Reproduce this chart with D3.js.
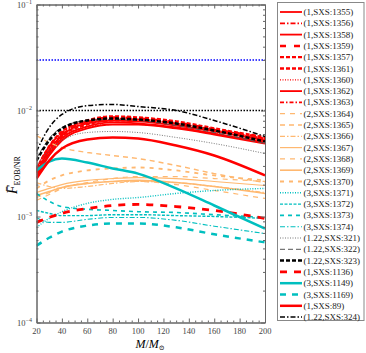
<!DOCTYPE html>
<html>
<head>
<meta charset="utf-8">
<script src="https://cdn.jsdelivr.net/npm/d3@7"></script>
<style>
  body { margin: 0; background: #fff; }
  svg text { font-family: "Liberation Serif", "DejaVu Serif", serif; }
</style>
</head>
<body>
<svg class="chart"></svg>
<script>
// total mass grid (M / M_sun)
const masses = [20, 30, 40, 60, 80, 100, 130, 160, 200];

// mismatch values, one array per simulation
const sxs1355 = [0.00260, 0.00420, 0.00581, 0.00754, 0.00805, 0.00788, 0.00722, 0.00634, 0.00521];
const sxs1356 = [0.00284, 0.00457, 0.00620, 0.00788, 0.00840, 0.00822, 0.00754, 0.00648, 0.00533];
const sxs1358 = [0.00244, 0.00393, 0.00545, 0.00706, 0.00771, 0.00754, 0.00691, 0.00606, 0.00499];
const sxs1359 = [0.00272, 0.00447, 0.00606, 0.00788, 0.00859, 0.00840, 0.00771, 0.00663, 0.00557];
const sxs1357 = [0.00254, 0.00411, 0.00569, 0.00738, 0.00805, 0.00805, 0.00738, 0.00648, 0.00533];
const sxs1361 = [0.00278, 0.00457, 0.00634, 0.00805, 0.00878, 0.00859, 0.00788, 0.00677, 0.00557];
const sxs1360 = [0.00296, 0.00438, 0.00569, 0.00706, 0.00738, 0.00738, 0.00691, 0.00606, 0.00510];
const sxs1362 = [0.00233, 0.00376, 0.00521, 0.00677, 0.00738, 0.00738, 0.00677, 0.00593, 0.00488];
const sxs1363 = [0.00266, 0.00429, 0.00593, 0.00771, 0.00822, 0.00822, 0.00754, 0.00663, 0.00545];
const sxs1364 = [0.00142, 0.00161, 0.00184, 0.00209, 0.00228, 0.00238, 0.00238, 0.00228, 0.00214];
const sxs1365 = [0.00581, 0.00499, 0.00447, 0.00402, 0.00376, 0.00352, 0.00303, 0.00254, 0.00209];
const sxs1366 = [0.00209, 0.00192, 0.00184, 0.00192, 0.00205, 0.00214, 0.00209, 0.00192, 0.00168];
const sxs1367 = [0.00168, 0.00184, 0.00200, 0.00219, 0.00228, 0.00233, 0.00228, 0.00214, 0.00196];
const sxs1368 = [0.00151, 0.00168, 0.00188, 0.00205, 0.00214, 0.00214, 0.00200, 0.00176, 0.00148];
const sxs1369 = [0.00158, 0.00172, 0.00188, 0.00205, 0.00214, 0.00219, 0.00209, 0.00192, 0.00165];
const sxs1370 = [0.00184, 0.00219, 0.00244, 0.00272, 0.00284, 0.00290, 0.00272, 0.00244, 0.00219];
const sxs1371 = [0.00079, 0.00096, 0.00111, 0.00133, 0.00145, 0.00151, 0.00165, 0.00176, 0.00184];
const sxs1372 = [0.00114, 0.00107, 0.00102, 0.00102, 0.00104, 0.00104, 0.00102, 0.00100, 0.00096];
const sxs1373 = [0.00165, 0.00139, 0.00124, 0.00117, 0.00114, 0.00111, 0.00109, 0.00104, 0.00098];
const sxs1374 = [0.00098, 0.00088, 0.00088, 0.00094, 0.00098, 0.00098, 0.00092, 0.00081, 0.00069];
const sxs321 = [0.00303, 0.00420, 0.00521, 0.00620, 0.00634, 0.00620, 0.00557, 0.00488, 0.00393];
const sxs322 = [0.00352, 0.00545, 0.00691, 0.00805, 0.00822, 0.00805, 0.00722, 0.00620, 0.00488];
const sxs323 = [0.00337, 0.00521, 0.00677, 0.00805, 0.00840, 0.00822, 0.00754, 0.00648, 0.00510];
const sxs1136 = [0.00088, 0.00098, 0.00107, 0.00119, 0.00127, 0.00130, 0.00124, 0.00114, 0.00096];
const sxs1149 = [0.00272, 0.00330, 0.00352, 0.00323, 0.00284, 0.00254, 0.00184, 0.00127, 0.00077];
const sxs1169 = [0.00053, 0.00063, 0.00072, 0.00082, 0.00086, 0.00086, 0.00079, 0.00068, 0.00057];
const sxs89 = [0.00228, 0.00337, 0.00438, 0.00533, 0.00557, 0.00545, 0.00467, 0.00376, 0.00244];
const sxs324 = [0.00411, 0.00691, 0.00917, 0.0111, 0.0114, 0.0109, 0.0100, 0.00805, 0.00569];

// horizontal reference levels
const refLevels = [0.01, 0.03];

const xTicks = [20, 40, 60, 80, 100, 120, 140, 160, 180, 200];
const yTicks = [-4, -3, -2, -1];

const RED = '#ff0000', ORA = '#ffb870', CYA = '#00bfbf';

const series = [
  {name: '(1,SXS:1355)', v: sxs1355, c: RED, w: 1.8, d: null},
  {name: '(1,SXS:1356)', v: sxs1356, c: RED, w: 1.8, d: '5,2,1.5,2'},
  {name: '(1,SXS:1358)', v: sxs1358, c: RED, w: 1.8, d: null},
  {name: '(1,SXS:1359)', v: sxs1359, c: RED, w: 2.5, d: '6,8'},
  {name: '(1,SXS:1357)', v: sxs1357, c: RED, w: 2.2, d: '4,2'},
  {name: '(1,SXS:1361)', v: sxs1361, c: RED, w: 2.5, d: '4,2'},
  {name: '(1,SXS:1360)', v: sxs1360, c: RED, w: 1.2, d: '1,1.5'},
  {name: '(1,SXS:1362)', v: sxs1362, c: RED, w: 1.8, d: null},
  {name: '(1,SXS:1363)', v: sxs1363, c: RED, w: 1.6, d: '4,2,1.5,2'},
  {name: '(2,SXS:1364)', v: sxs1364, c: ORA, w: 1.2, d: '5,5'},
  {name: '(2,SXS:1365)', v: sxs1365, c: ORA, w: 1.4, d: '5,4'},
  {name: '(2,SXS:1366)', v: sxs1366, c: ORA, w: 1.2, d: '5,2,1.5,2'},
  {name: '(2,SXS:1367)', v: sxs1367, c: ORA, w: 1.2, d: null},
  {name: '(2,SXS:1368)', v: sxs1368, c: ORA, w: 1.2, d: '5,5'},
  {name: '(2,SXS:1369)', v: sxs1369, c: ORA, w: 1.6, d: null},
  {name: '(2,SXS:1370)', v: sxs1370, c: ORA, w: 1.8, d: '4,5'},
  {name: '(3,SXS:1371)', v: sxs1371, c: CYA, w: 1.4, d: '1,1.5'},
  {name: '(3,SXS:1372)', v: sxs1372, c: CYA, w: 1.4, d: '3,1.5'},
  {name: '(3,SXS:1373)', v: sxs1373, c: CYA, w: 1.6, d: '4,4'},
  {name: '(3,SXS:1374)', v: sxs1374, c: CYA, w: 1.1, d: '5,2,1.5,2'},
  {name: '(1.22,SXS:321)', v: sxs321, c: '#666', w: 0.9, d: '1,1.5'},
  {name: '(1.22,SXS:322)', v: sxs322, c: '#555', w: 1.0, d: '5,3'},
  {name: '(1.22,SXS:323)', v: sxs323, c: '#000', w: 2.5, d: '4,2'},
  {name: '(1,SXS:1136)', v: sxs1136, c: RED, w: 2.8, d: '7,7'},
  {name: '(3,SXS:1149)', v: sxs1149, c: CYA, w: 2.5, d: null},
  {name: '(3,SXS:1169)', v: sxs1169, c: CYA, w: 2.5, d: '6,6'},
  {name: '(1,SXS:89)', v: sxs89, c: RED, w: 2.5, d: null},
  {name: '(1.22,SXS:324)', v: sxs324, c: '#000', w: 1.5, d: '5,2,1.5,2'}
];

const W = 366, H = 353;
const svg = d3.select('.chart').attr('width', W).attr('height', H);

const x = d3.scaleLinear().domain([20, 200]).range([36.5, 265]);
const y = d3.scaleLog().domain([1e-4, 1e-1]).range([322.5, 4.5]);

svg.append('clipPath').attr('id', 'plot')
  .append('rect').attr('x', 36.5).attr('y', 4.5).attr('width', 228.5).attr('height', 318);

const line = d3.line()
  .x((d, i) => x(masses[i]))
  .y((d) => y(d))
  .curve(d3.curveMonotoneX);

const g = svg.append('g').attr('clip-path', 'url(#plot)');

g.selectAll('.ref')
  .data(refLevels)
  .enter().append('line')
  .attr('x1', x(20)).attr('x2', x(200))
  .attr('y1', (d) => y(d)).attr('y2', (d) => y(d))
  .attr('stroke', (d, i) => i === 0 ? '#000' : '#0000ff')
  .attr('stroke-width', 1.5)
  .attr('stroke-dasharray', '1.5,1.5');

g.selectAll('.series')
  .data(series)
  .enter().append('path')
  .attr('fill', 'none')
  .attr('stroke', (d) => d.c)
  .attr('stroke-width', (d) => d.w)
  .attr('stroke-dasharray', (d) => d.d)
  .attr('d', (d) => line(d.v));

// axes: inward ticks on all four sides
const axisCol = '#666';
const minorX = d3.range(20, 201, 5).filter((v) => v % 20 !== 0);
const minorY = [];
yTicks.slice(0, -1).forEach((e) => {
  for (let k = 2; k < 10; k++) minorY.push(k * Math.pow(10, e));
});
const majorY = yTicks.map((e) => Math.pow(10, e));

const addAxis = (axis, tr) => {
  const a = svg.append('g').attr('transform', tr).call(axis);
  a.selectAll('path, line').attr('stroke', axisCol);
  a.selectAll('text').remove();
  return a;
};

addAxis(d3.axisBottom(x).tickValues(xTicks).tickSize(-4).tickSizeOuter(0), 'translate(0,322.5)');
addAxis(d3.axisBottom(x).tickValues(minorX).tickSize(-2).tickSizeOuter(0), 'translate(0,322.5)');
addAxis(d3.axisTop(x).tickValues(xTicks).tickSize(-4).tickSizeOuter(0), 'translate(0,4.5)');
addAxis(d3.axisTop(x).tickValues(minorX).tickSize(-2).tickSizeOuter(0), 'translate(0,4.5)');
addAxis(d3.axisLeft(y).tickValues(majorY).tickSize(-4).tickSizeOuter(0), 'translate(36.5,0)');
addAxis(d3.axisLeft(y).tickValues(minorY).tickSize(-2).tickSizeOuter(0), 'translate(36.5,0)');
addAxis(d3.axisRight(y).tickValues(majorY).tickSize(-4).tickSizeOuter(0), 'translate(265,0)');
addAxis(d3.axisRight(y).tickValues(minorY).tickSize(-2).tickSizeOuter(0), 'translate(265,0)');

svg.selectAll('.xlab')
  .data(xTicks)
  .enter().append('text')
  .attr('x', (d) => x(d)).attr('y', 333.5)
  .attr('text-anchor', 'middle')
  .attr('font-size', 8.5).attr('fill', '#444')
  .text((d) => d);

const yl = svg.selectAll('.ylab')
  .data(yTicks)
  .enter().append('text')
  .attr('x', 32).attr('y', (d) => y(Math.pow(10, d)) + 3)
  .attr('text-anchor', 'end')
  .attr('font-size', 8.5).attr('fill', '#444');
yl.append('tspan').text('10');
yl.append('tspan').attr('dy', -4).attr('font-size', 6).text((d) => '\u2212' + (-d));

// axis titles
const xt = svg.append('text')
  .attr('x', 150).attr('y', 347.5)
  .attr('text-anchor', 'middle')
  .attr('font-size', 12).attr('font-style', 'italic');
xt.append('tspan').text('M');
xt.append('tspan').attr('font-style', 'normal').text('/');
xt.append('tspan').text('M');
xt.append('tspan').attr('font-style', 'normal').attr('font-size', 7).attr('dy', 2).text('\u2299');

const yt = svg.append('text')
  .attr('transform', 'translate(17,175) rotate(-90)')
  .attr('text-anchor', 'middle')
  .attr('font-size', 14);
yt.append('tspan').attr('font-style', 'italic').text('F\u0304');
yt.append('tspan').attr('font-size', 8).attr('dy', 3).text('EOB/NR');

// legend
const lg = svg.append('g');
lg.append('rect')
  .attr('x', 277.5).attr('y', 2.5).attr('width', 86.5).attr('height', 318)
  .attr('fill', '#fff').attr('stroke', '#888').attr('stroke-width', 1);

const item = lg.selectAll('.item')
  .data(series)
  .enter().append('g')
  .attr('transform', (d, i) => 'translate(0,' + (12 + i * 11.3) + ')');

item.append('line')
  .attr('x1', 280).attr('x2', 302)
  .attr('stroke', (d) => d.c)
  .attr('stroke-width', (d) => d.w)
  .attr('stroke-dasharray', (d) => d.d);

item.append('text')
  .attr('x', 303.5).attr('y', 3)
  .attr('font-size', 9).attr('fill', '#222')
  .text((d) => d.name);
</script>
</body>
</html>
